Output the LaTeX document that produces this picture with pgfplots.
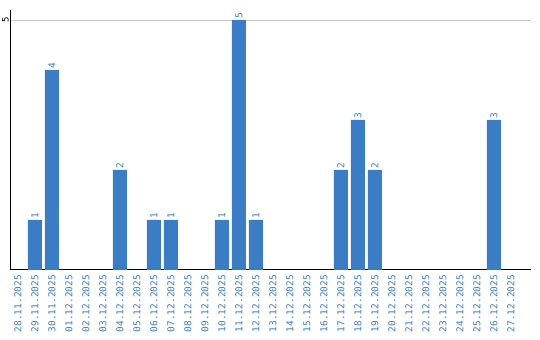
\documentclass[border=0pt]{standalone}
\usepackage{fontspec}
\setmainfont{DejaVu Sans Mono}
\usepackage{pgfplots}
\pgfplotsset{compat=1.18}
\definecolor{barblue}{HTML}{3A7DC4}
\definecolor{gridgray}{HTML}{C8C8C8}
\begin{document}
\begin{tikzpicture}
\begin{axis}[
  name=ax,
  at={(0,0)}, anchor=south west,
  scale only axis,
  width=520.5bp, height=260bp,
  xmin=-0.44, xmax=30.18,
  ymin=0, ymax=5.2,
  axis x line=bottom, axis y line=left,
  axis line style={-, black, line width=1pt},
  ytick={5}, yticklabels={5},
  ymajorgrids, grid style={gridgray, line width=0.8pt},
  major tick length=0pt,
  yticklabel style={rotate=90, anchor=south, font=\fontsize{9}{9}\selectfont, text=black, inner sep=1.5bp},
  xtick={0,...,29},
  xticklabels={28.11.2025,29.11.2025,30.11.2025,01.12.2025,02.12.2025,03.12.2025,04.12.2025,05.12.2025,06.12.2025,07.12.2025,08.12.2025,09.12.2025,10.12.2025,11.12.2025,12.12.2025,13.12.2025,14.12.2025,15.12.2025,16.12.2025,17.12.2025,18.12.2025,19.12.2025,20.12.2025,21.12.2025,22.12.2025,23.12.2025,24.12.2025,25.12.2025,26.12.2025,27.12.2025},
  xticklabel style={rotate=90, anchor=east, font=\fontsize{9.5}{9.5}\selectfont, text=barblue, inner sep=5bp},
  /pgf/number format/assume math mode=true,
  ybar, bar width=14bp,
  nodes near coords,
  nodes near coords style={rotate=90, anchor=west, font=\fontsize{9.5}{9.5}\selectfont, text=barblue, inner sep=1.5bp},
  clip=false,
]
\addplot[fill=barblue, draw=none] coordinates {
  (1,1) (2,4) (6,2) (8,1) (9,1) (12,1) (13,5) (14,1) (19,2) (20,3) (21,2) (28,3)
};
\end{axis}
\pgfresetboundingbox
\path[use as bounding box] ([xshift=-10.5bp,yshift=-70bp]ax.south west) rectangle ([xshift=9bp,yshift=10bp]ax.north east);
\end{tikzpicture}
\end{document}
